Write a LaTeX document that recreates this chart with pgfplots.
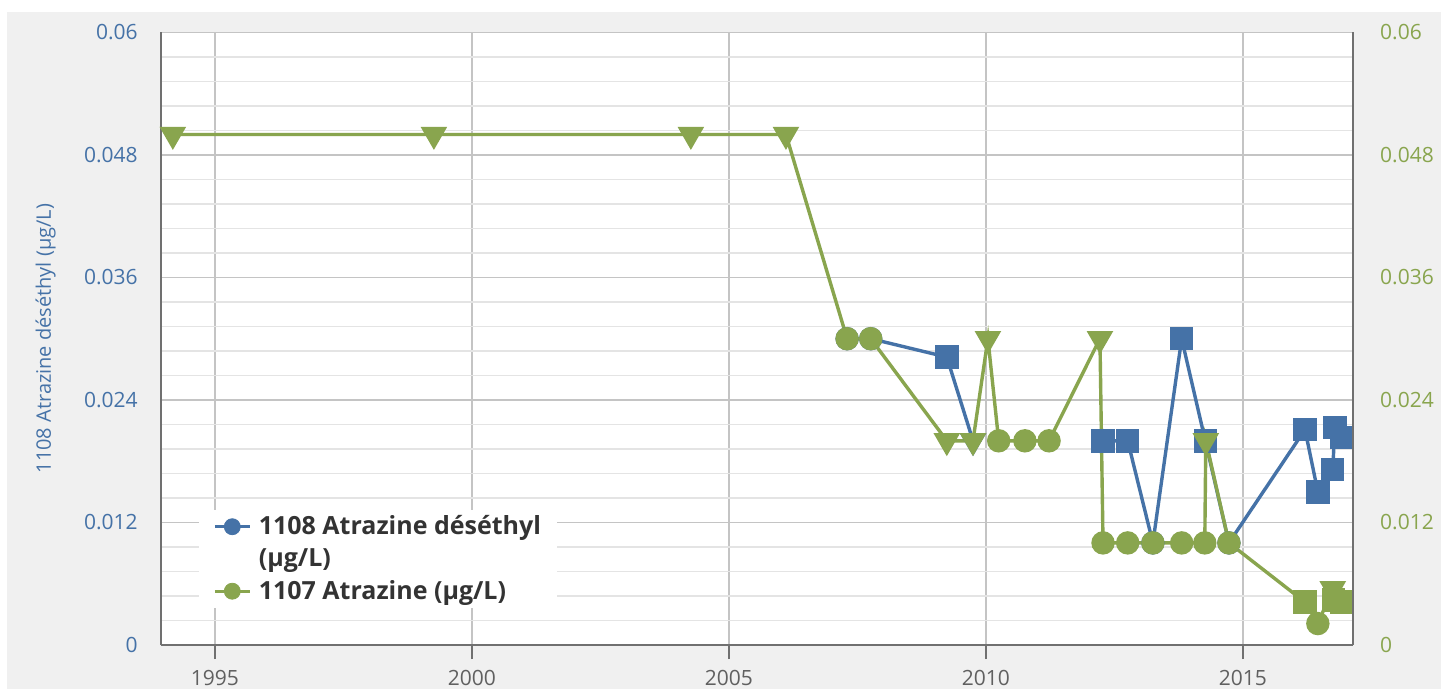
\documentclass[border=0pt]{standalone}
\usepackage{fontspec}
\setmainfont{Open Sans}
\usepackage{pgfplots}
\usepackage{pgfplotstable}
\pgfplotsset{compat=1.18}

\definecolor{serieblue}{HTML}{4572A7}
\definecolor{seriegreen}{HTML}{89A54E}
\definecolor{chartbg}{HTML}{F0F0F0}
\definecolor{gridmajor}{HTML}{C4C4C4}
\definecolor{gridminor}{HTML}{E4E4E4}
\definecolor{axisdark}{HTML}{707070}
\definecolor{ticktext}{HTML}{606060}
\definecolor{legendtext}{HTML}{333333}

% triangle pointing down, centred on the point
\pgfdeclareplotmark{tridown}{%
  \pgfpathmoveto{\pgfqpoint{0pt}{-\pgfplotmarksize}}%
  \pgfpathlineto{\pgfqpointpolar{30}{\pgfplotmarksize}}%
  \pgfpathlineto{\pgfqpointpolar{150}{\pgfplotmarksize}}%
  \pgfpathclose
  \pgfusepathqfillstroke}

% m: c = circle, t = triangle down, s = square
\pgfplotstableread{
x y m
2007.30 0.0300 c
2007.76 0.0300 c
2009.24 0.0282 s
2009.75 0.0200 t
2011.75 nan c
2012.28 0.0200 s
2012.76 0.0200 s
2013.25 0.0100 c
2013.81 0.0300 s
2014.27 0.0200 s
2014.73 0.0100 c
2016.21 0.0211 s
2016.46 0.0150 s
2016.75 0.0172 s
2016.79 0.0213 s
2016.93 0.0203 s
}\desethyl

\pgfplotstableread{
x y m
1994.18 0.0500 t
1999.26 0.0500 t
2004.26 0.0500 t
2006.11 0.0500 t
2007.30 0.0300 c
2007.76 0.0300 c
2009.24 0.0200 t
2009.75 0.0200 t
2010.04 0.0300 t
2010.25 0.0200 c
2010.76 0.0200 c
2011.23 0.0200 c
2012.22 0.0300 t
2012.28 0.0100 c
2012.76 0.0100 c
2013.25 0.0100 c
2013.81 0.0100 c
2014.26 0.0100 c
2014.28 0.0200 t
2014.73 0.0100 c
2016.21 0.0042 s
2016.46 0.0021 c
2016.75 0.0055 t
2016.77 0.0044 s
2016.93 0.0042 s
}\atrazine

\begin{document}
\begin{tikzpicture}
\fill[white] (-80.35bp,-22bp) rectangle (640.15bp,322.5bp);
\fill[chartbg] (-76.85bp,-22bp) rectangle (640.15bp,316.5bp);
\fill[white] (0,0) rectangle (596.2bp,306.3bp);

\pgfplotsset{
  common/.style={
    at={(0,0)}, anchor=south west,
    scale only axis, width=596.2bp, height=306.3bp,
    xmin=1993.944, xmax=2017.146, ymin=0, ymax=0.06,
    ytick={0,0.012,0.024,0.036,0.048,0.06},
    yticklabels={0,0.012,0.024,0.036,0.048,0.06},
    scaled y ticks=false,
    ytick style={draw=none},
    axis line style={axisdark, line width=1bp},
    tick label style={font=\fontsize{10.5bp}{12bp}\selectfont},
  },
  mk/.style={
    scatter, scatter src=explicit symbolic, unbounded coords=jump,
    line width=1.7bp,
    scatter/classes={
      c={mark=*, mark size=5bp, #1},
      t={mark=tridown, mark size=6bp, #1},
      s={mark=square*, mark size=5bp, #1}
    },
  },
}

\begin{axis}[
  common,
  axis x line*=bottom, axis y line*=left,
  xtick={1995,2000,2005,2010,2015},
  xticklabels={1995,2000,2005,2010,2015},
  xtick align=outside,
  major tick length=7bp,
  xtick style={axisdark, line width=1bp},
  xticklabel style={text=ticktext, yshift=-2bp},
  yticklabel style={text=serieblue, xshift=-8bp},
  minor y tick num=4,
  grid=both,
  major grid style={gridmajor, line width=0.9bp},
  minor grid style={gridminor, line width=0.9bp},
  ylabel={1108 Atrazine déséthyl (µg/L)},
  ylabel style={at={(axis description cs:0,0.5)}, anchor=center,
    yshift=57.5bp, text=serieblue, font=\fontsize{10bp}{12bp}\selectfont},
  legend style={at={(rel axis cs:0,0)}, anchor=south west,
    xshift=19bp, yshift=18.5bp, fill=white, draw=none,
    font=\bfseries\fontsize{12.5bp}{15bp}\selectfont, text=legendtext,
    inner xsep=7bp, inner ysep=1.5bp, row sep=3bp, column sep=2.5bp,
    nodes={inner sep=1.2bp}},
  legend cell align=left,
  legend image code/.code={
    \draw[#1, line width=1.7bp] (0bp,0bp) -- (17.5bp,0bp);
    \fill[#1] (8.75bp,0bp) circle (4bp);
  },
]
\addplot[serieblue, mk={serieblue}, forget plot] table[x=x, y=y, meta=m] {\desethyl};
\addplot[seriegreen, mk={seriegreen}, forget plot] table[x=x, y=y, meta=m] {\atrazine};
\addlegendimage{serieblue}
\addlegendentry{1108 Atrazine déséthyl}
\addlegendimage{empty legend}
\addlegendentry{(µg/L)}
\addlegendimage{seriegreen}
\addlegendentry{1107 Atrazine (µg/L)}
\end{axis}

\begin{axis}[
  common,
  axis x line=none, axis y line*=right,
  yticklabel style={text=seriegreen, xshift=10bp},
]
\addplot[draw=none] coordinates {(2000,0)};
\end{axis}

\pgfresetboundingbox
\path[use as bounding box] (-80.35bp,-22bp) rectangle (640.15bp,322.5bp);
\end{tikzpicture}
\end{document}
